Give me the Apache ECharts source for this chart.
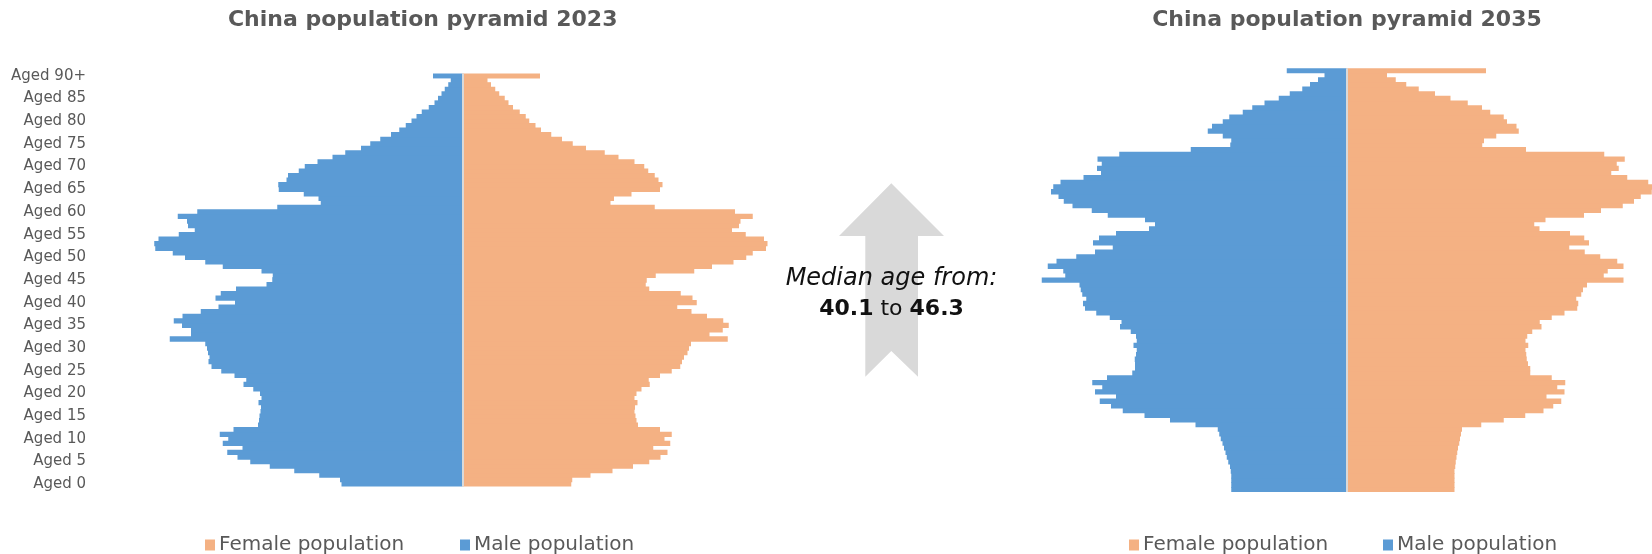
<!DOCTYPE html>
<html>
<head>
<meta charset="utf-8">
<script src="https://cdn.jsdelivr.net/npm/echarts@6/dist/echarts.min.js"></script>
<style>
html,body{margin:0;padding:0;background:#fff;}
#chart{width:1652px;height:554px;}
</style>
</head>
<body>
<div id="chart"></div>
<script>
// Categories: single-year ages 0 .. 90+ (bottom to top)
const ageCategories = Array.from({length: 91}, (_, i) => i === 90 ? 'Aged 90+' : 'Aged ' + i);

// Population (millions), index = age
const male2023 = [
  4.84,4.90,5.73,6.73,7.71,8.49,9.00,9.41,8.80,9.59,
  9.37,9.71,9.16,8.18,8.14,8.12,8.08,8.06,8.16,8.04,
  8.10,8.37,8.76,8.65,9.12,9.65,10.04,10.16,10.12,10.18,
  10.22,10.29,11.71,10.86,10.86,11.22,11.55,11.20,10.47,9.76,
  9.10,9.88,9.67,9.06,7.84,7.61,7.59,8.04,9.59,10.29,
  11.10,11.59,12.29,12.33,12.16,11.35,10.71,10.98,11.02,11.39,
  10.61,7.41,5.67,5.76,6.35,7.35,7.37,7.04,6.98,6.55,
  6.31,5.80,5.20,4.69,4.06,3.69,3.29,2.86,2.53,2.27,
  2.04,1.84,1.63,1.35,1.12,0.98,0.84,0.71,0.57,0.47,
  1.18
];
const female2023 = [
  4.35,4.39,5.12,6.00,6.82,7.47,7.92,8.20,7.63,8.31,
  8.08,8.37,7.90,7.02,6.96,6.92,6.88,6.90,7.00,6.88,
  6.96,7.16,7.49,7.45,7.90,8.37,8.71,8.78,8.86,9.00,
  9.06,9.14,10.61,9.88,10.41,10.65,10.43,9.78,9.16,8.59,
  9.37,9.20,8.73,7.47,7.33,7.37,7.73,9.27,9.98,10.84,
  11.35,11.61,12.14,12.20,12.06,11.33,10.78,11.06,11.12,11.61,
  10.90,7.69,5.92,6.06,6.76,7.90,8.00,7.84,7.69,7.43,
  7.27,6.88,6.24,5.69,4.94,4.41,3.98,3.55,3.14,2.92,
  2.67,2.53,2.29,2.02,1.84,1.69,1.47,1.31,1.14,1.00,
  3.10
];
const male2035 = [
  4.63,4.63,4.63,4.63,4.65,4.68,4.75,4.81,4.86,4.92,
  4.98,5.05,5.11,5.17,6.06,7.08,8.10,8.97,9.44,9.89,
  9.24,10.08,9.79,10.19,9.60,8.59,8.48,8.48,8.49,8.44,
  8.41,8.54,8.41,8.44,8.65,9.08,9.02,9.49,10.03,10.48,
  10.56,10.43,10.59,10.65,10.70,12.21,11.27,11.35,11.97,11.62,
  10.83,10.08,9.37,10.16,9.92,9.24,7.92,7.68,8.08,9.57,
  10.21,10.98,11.33,11.54,11.84,11.75,11.46,10.54,9.84,10.00,
  9.81,9.98,9.11,6.25,4.67,4.63,4.97,5.57,5.40,4.97,
  4.71,4.17,3.79,3.30,2.73,2.29,1.79,1.48,1.16,0.90,
  2.41
];
const female2035 = [
  4.30,4.30,4.30,4.30,4.30,4.33,4.35,4.38,4.41,4.44,
  4.49,4.52,4.56,4.60,5.37,6.27,7.13,7.86,8.25,8.57,
  7.98,8.70,8.41,8.73,8.19,7.33,7.33,7.24,7.19,7.17,
  7.14,7.25,7.14,7.21,7.41,7.78,7.71,8.19,8.70,9.21,
  9.25,9.17,9.37,9.44,9.60,11.06,10.27,10.43,11.06,10.81,
  10.13,9.51,8.89,9.68,9.49,8.92,7.70,7.49,7.94,9.48,
  10.16,11.03,11.48,11.75,12.19,12.25,12.05,11.21,10.57,10.87,
  10.79,11.11,10.29,7.16,5.41,5.48,5.97,6.87,6.78,6.40,
  6.27,5.73,5.40,4.83,4.14,3.52,2.87,2.37,1.95,1.60,
  5.56
];

const seriesNames = ['Female population', 'Male population'];
const chartTitles = ['China population pyramid 2023', 'China population pyramid 2035'];

const BLUE = '#5B9BD5', ORANGE = '#F4B183', GREY = '#595959';
const FONT = "'DejaVu Sans', sans-serif";

const chart = echarts.init(document.getElementById('chart'), null, {renderer: 'canvas'});

function barSeries(name, data, idx, color, neg, bw) {
  const s = {
    name: name, type: 'bar', stack: 'pyr' + idx,
    xAxisIndex: idx, yAxisIndex: idx,
    data: neg ? data.map(v => -v) : data,
    barWidth: bw,
    itemStyle: {color: color},
    emphasis: {disabled: true},
    animation: false
  };
  if (!neg) {
    s.markLine = {
      silent: true, symbol: 'none', label: {show: false},
      lineStyle: {color: '#D9D9D9', width: 2, type: 'solid'},
      data: [{xAxis: 0}]
    };
  }
  return s;
}

function legendItem(name, left) {
  return {
    data: [name], left: left, top: 535, padding: 0, itemGap: 0,
    itemWidth: 10, itemHeight: 11, icon: 'rect', selectedMode: false,
    textStyle: {fontSize: 20, color: GREY, fontFamily: FONT, padding: [0, 0, 0, -1]}
  };
}

const option = {
  animation: false,
  grid: [
    {left: 95, top: 73.5, width: 735, height: 413},
    {left: 1000, top: 68.3, width: 652, height: 423.7}
  ],
  xAxis: [
    {type: 'value', gridIndex: 0, min: -14.7, max: 14.7, show: false},
    {type: 'value', gridIndex: 1, min: -13.88, max: 12.2, show: false}
  ],
  yAxis: [
    {type: 'category', gridIndex: 0, data: ageCategories,
     axisLine: {show: false}, axisTick: {show: false},
     axisLabel: {interval: 4, margin: 9, fontSize: 15, color: GREY, fontFamily: FONT}},
    {type: 'category', gridIndex: 1, data: ageCategories, show: false}
  ],
  legend: [
    legendItem(seriesNames[0], 205),
    legendItem(seriesNames[1], 460),
    legendItem(seriesNames[0], 1129),
    legendItem(seriesNames[1], 1383)
  ],
  series: [
    barSeries(seriesNames[1], male2023, 0, BLUE, true, 5.3),
    barSeries(seriesNames[0], female2023, 0, ORANGE, false, 5.3),
    barSeries(seriesNames[1], male2035, 1, BLUE, true, 5.4),
    barSeries(seriesNames[0], female2035, 1, ORANGE, false, 5.4)
  ],
  graphic: [
    {type: 'text', x: 422.7, y: 20, silent: true,
     style: {text: chartTitles[0], fill: GREY, font: "bold 22px 'DejaVu Sans'", align: 'center', verticalAlign: 'middle'}},
    {type: 'text', x: 1347, y: 20, silent: true,
     style: {text: chartTitles[1], fill: GREY, font: "bold 22px 'DejaVu Sans'", align: 'center', verticalAlign: 'middle'}},
    {type: 'polygon', silent: true, z: 0,
     shape: {points: [[891.3,183.3],[944,236],[918,236],[918,376.7],[891.3,351],[865.3,376.7],[865.3,236],[839,236]]},
     style: {fill: '#D9D9D9'}},
    {type: 'text', x: 891.5, y: 279, silent: true, z: 10,
     style: {text: 'Median age from:', fill: '#111', font: "italic 24px 'DejaVu Sans'", align: 'center', verticalAlign: 'middle'}},
    {type: 'text', x: 891.5, y: 309, silent: true, z: 10,
     style: {
       text: '{b|40.1}{n| to }{b|46.3}', align: 'center', verticalAlign: 'middle',
       rich: {
         b: {fontFamily: 'DejaVu Sans', fontWeight: 'bold', fontSize: 22, fill: '#111'},
         n: {fontFamily: 'DejaVu Sans', fontSize: 22, fill: '#111'}
       }
     }}
  ]
};
chart.setOption(option);
</script>
</body>
</html>
